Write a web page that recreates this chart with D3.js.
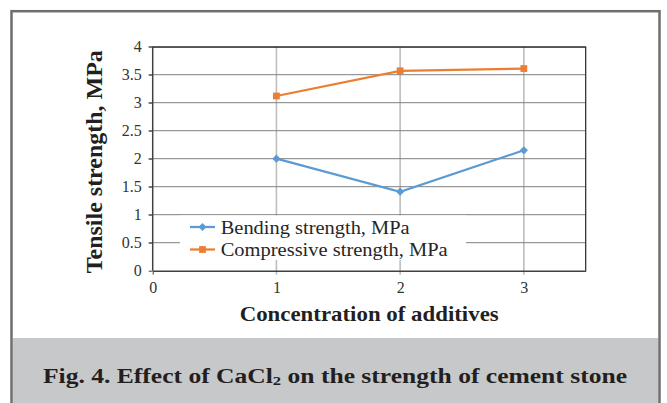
<!DOCTYPE html>
<html>
<head>
<meta charset="utf-8">
<style>
    body { margin: 0; background: #fff; }
    svg { display: block; }
    svg text { font-family: "Liberation Serif", "DejaVu Serif", "Noto Serif", serif; fill: #262626; }
    .grid-h line { stroke: #7f7f7f; stroke-width: 1; }
    .grid-v line { stroke: #bdbdbd; stroke-width: 1.6; }
    .axis path, .axis line { stroke: #404040; }
    .axis text { font-size: 16px; fill: #333; }
</style>
</head>
<body>
<script src="https://d3js.org/d3.v7.min.js"></script>
<script>
    // values
    var concentrations = [1, 2, 3];
    var bending = [2.0, 1.41, 2.15];
    var compressive = [3.12, 3.57, 3.61];
    var xTicks = [0, 1, 2, 3];
    var yTicks = [0, 0.5, 1, 1.5, 2, 2.5, 3, 3.5, 4];
    var seriesNames = ["Bending strength, MPa", "Compressive strength, MPa"];
    var seriesColors = ["#5b9bd5", "#ed7d31"];

    var width = 667, height = 403;
    var margin = { left: 152.7, top: 46.7, right: 81.3, bottom: 132.3 };
    var w = width - margin.left - margin.right, h = height - margin.top - margin.bottom;

    var svg = d3.select("body").append("svg")
        .attr("width", width)
        .attr("height", height);

    // stretch a text horizontally to the width it has in the figure
    function fitWidth(sel, target) {
        var len = sel.node().getComputedTextLength();
        if (len > 0) sel.attr("textLength", target).attr("lengthAdjust", "spacingAndGlyphs");
        return sel;
    }

    // frame + caption band
    svg.append("rect")
        .attr("x", 12.75).attr("y", 338)
        .attr("width", 645.5).attr("height", 70)
        .attr("fill", "#c7c8ca");
    svg.append("rect")
        .attr("x", 11.5).attr("y", 11.2)
        .attr("width", 648).attr("height", 420)
        .attr("fill", "none")
        .attr("stroke", "#6e6e6e")
        .attr("stroke-width", 2.5);

    var cap = svg.append("text")
        .attr("x", 335).attr("y", 383)
        .attr("text-anchor", "middle")
        .style("font-size", "20px")
        .style("font-weight", "bold")
        .style("fill", "#231f20");
    cap.append("tspan").text("Fig. 4. Effect of CaCl");
    cap.append("tspan").text("2").style("font-size", "13px").attr("dy", 2);
    cap.append("tspan").text(" on the strength of cement stone").attr("dy", -2);
    fitWidth(cap, 584);

    var g = svg.append("g").attr("transform", "translate(" + margin.left + "," + margin.top + ")");

    var x = d3.scaleLinear().domain([0, 3.5]).range([0, w]);
    var y = d3.scaleLinear().domain([0, 4]).range([h, 0]);

    // gridlines
    g.append("g").attr("class", "grid-v")
        .selectAll("line").data(xTicks.slice(1)).enter().append("line")
        .attr("x1", function (d) { return x(d); })
        .attr("x2", function (d) { return x(d); })
        .attr("y1", 0).attr("y2", h + 4);
    g.append("g").attr("class", "grid-h")
        .selectAll("line").data(yTicks.slice(1)).enter().append("line")
        .attr("x1", -4).attr("x2", w)
        .attr("y1", function (d) { return y(d); })
        .attr("y2", function (d) { return y(d); });

    // plot border top/right
    g.append("path")
        .attr("d", "M0,0.5H" + w + "V" + h)
        .attr("fill", "none")
        .attr("stroke", "#262626")
        .attr("stroke-width", 1.2);

    // axes
    g.append("g").attr("class", "axis")
        .attr("transform", "translate(0," + h + ")")
        .call(d3.axisBottom(x).tickValues(xTicks).tickSizeInner(4).tickSizeOuter(0).tickPadding(7).tickFormat(d3.format("d")))
        .call(function (a) { a.selectAll(".tick line").filter(function (d) { return d > 0; }).remove(); })
        .call(function (a) { a.select(".domain").attr("stroke-width", 1.5); });

    g.append("g").attr("class", "axis")
        .call(d3.axisLeft(y).tickValues(yTicks).tickSize(4).tickPadding(7).tickFormat(function (d) { return String(d); }))
        .call(function (a) { a.select(".domain").attr("d", "M0,0V" + h).attr("stroke-width", 1.5); });

    // lines + markers (diamond = square turned 45deg)
    var series = [bending, compressive];
    var line = d3.line()
        .x(function (d, i) { return x(concentrations[i]); })
        .y(function (d) { return y(d); });

    var shapes = [d3.symbol().type(d3.symbolSquare).size(34), d3.symbol().type(d3.symbolSquare).size(46)];
    var turns = [45, 0];

    series.forEach(function (vals, k) {
        g.append("path")
            .datum(vals)
            .attr("d", line)
            .attr("fill", "none")
            .attr("stroke", seriesColors[k])
            .attr("stroke-width", 2.25);
        g.selectAll(".m" + k).data(vals).enter().append("path")
            .attr("class", "m" + k)
            .attr("transform", function (d, i) { return "translate(" + x(concentrations[i]) + "," + y(d) + ") rotate(" + turns[k] + ")"; })
            .attr("d", shapes[k]())
            .attr("fill", seriesColors[k]);
    });

    // y label
    var yl = svg.append("text")
        .attr("transform", "translate(101.5," + (margin.top + h / 2 + 3) + ") rotate(-90)")
        .attr("text-anchor", "middle")
        .style("font-size", "23px")
        .style("font-weight", "bold")
        .style("fill", "#231f20")
        .text("Tensile strength, MPa");
    fitWidth(yl, 223);

    // x label
    var xl = svg.append("text")
        .attr("x", margin.left + w / 2).attr("y", 321)
        .attr("text-anchor", "middle")
        .style("font-size", "21px")
        .style("font-weight", "bold")
        .style("fill", "#231f20")
        .text("Concentration of additives");
    fitWidth(xl, 259);

    // legend
    var legend = svg.append("g").attr("transform", "translate(180,215.5)");
    legend.append("rect")
        .attr("width", 286).attr("height", 44.5)
        .attr("fill", "#fff");
    var legendWidths = [189, 227];
    seriesNames.forEach(function (name, k) {
        var ly = 11.5 + k * 22.5;
        legend.append("line")
            .attr("x1", 10).attr("x2", 35)
            .attr("y1", ly).attr("y2", ly)
            .attr("stroke", seriesColors[k])
            .attr("stroke-width", 2.25);
        legend.append("path")
            .attr("transform", "translate(22.5," + ly + ") rotate(" + turns[k] + ")")
            .attr("d", shapes[k]())
            .attr("fill", seriesColors[k]);
        var t = legend.append("text")
            .attr("x", 40.7).attr("y", ly + 6.5)
            .style("font-size", "19px")
            .text(name);
        fitWidth(t, legendWidths[k]);
    });
</script>
</body>
</html>
